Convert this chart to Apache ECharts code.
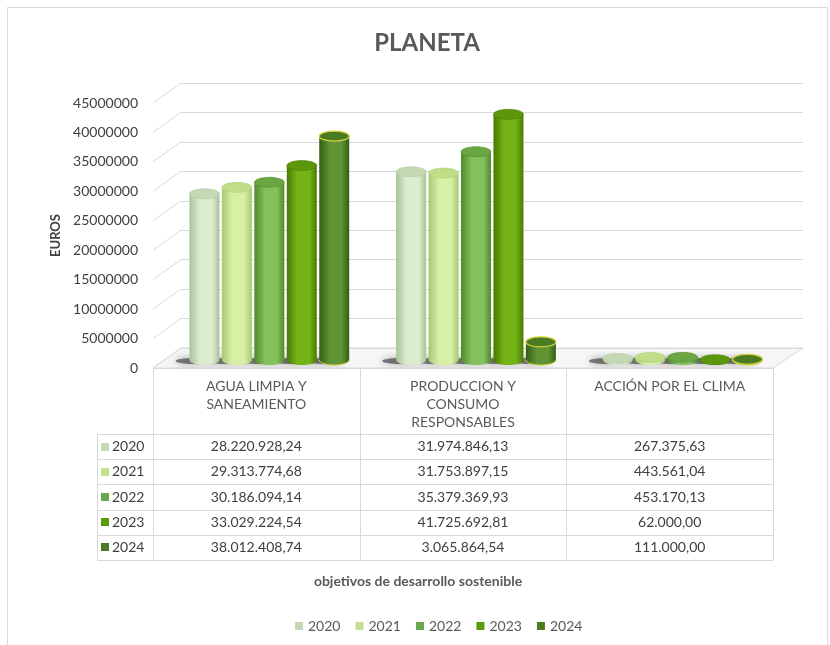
<!DOCTYPE html>
<html>
<head>
<meta charset="utf-8">
<title>PLANETA</title>
<script src="https://cdn.jsdelivr.net/npm/echarts@6/dist/echarts.min.js"></script>
<style>
  html, body { margin: 0; padding: 0; background: #fff; }
  #chart { width: 830px; height: 645px; }
</style>
</head>
<body>
<div id="chart"></div>
<script>
// datos
const categories = ['AGUA LIMPIA Y\nSANEAMIENTO', 'PRODUCCION Y\nCONSUMO\nRESPONSABLES', 'ACCIÓN POR EL CLIMA']
const years = ['2020', '2021', '2022', '2023', '2024']
const v2020 = [28220928.24, 31974846.13, 267375.63]
const v2021 = [29313774.68, 31753897.15, 443561.04]
const v2022 = [30186094.14, 35379369.93, 453170.13]
const v2023 = [33029224.54, 41725692.81, 62000.00]
const v2024 = [38012408.74, 3065864.54, 111000.00]
const yTicks = [0, 5000000, 10000000, 15000000, 20000000, 25000000, 30000000, 35000000, 40000000, 45000000]

const seriesValues = [v2020, v2021, v2022, v2023, v2024]

// colores: [borde, centro, tapa, leyenda]
const palette = [
  ['#a9c298', '#dcedcf', '#c4d9b3', '#c6d9b5'],
  ['#a6c872', '#d8efa6', '#c0de88', '#c4e08e'],
  ['#4d8a2c', '#86c05c', '#6aa641', '#6aa84f'],
  ['#467a04', '#74b416', '#5c960b', '#5b9a0f'],
  ['#355d16', '#5f9333', '#4a7a22', '#4e7a23']
]

const FONT = 'Lato, "Open Sans", sans-serif'
const DEPTH_X = 28
const DEPTH_Y = 20

// formato 28.220.928,24
function fmtEs(v) {
  const parts = v.toFixed(2).split('.')
  return parts[0].replace(/\B(?=(\d{3})+(?!\d))/g, '.') + ',' + parts[1]
}

function cylinder(idx) {
  const c = palette[idx]
  return function (params, api) {
    const cat = api.value(0)
    const base = api.coord([cat, 0])
    const top = api.coord([cat, api.value(1)])
    const band = api.size([1, 0])[0]
    const w = band * 0.145
    const step = band * 0.157
    const cx = base[0] + (idx - 2) * step
    const x0 = cx - w / 2
    const ry = 5
    const grad = new echarts.graphic.LinearGradient(0, 0, 1, 0, [
      { offset: 0, color: c[0] },
      { offset: 0.35, color: c[1] },
      { offset: 0.75, color: c[1] },
      { offset: 1, color: c[0] }
    ])
    const stroke = idx === 4 ? '#d6d43a' : null
    return {
      type: 'group',
      children: [
        {
          type: 'ellipse',
          shape: { cx: cx - 10, cy: base[1] + 1, rx: w / 2 + 4, ry: 3 },
          style: { fill: 'rgba(50,50,50,0.6)', shadowBlur: 7, shadowColor: 'rgba(0,0,0,0.6)' },
          z2: 0
        },
        {
          type: 'ellipse',
          shape: { cx: cx, cy: base[1], rx: w / 2, ry: ry },
          style: { fill: grad, stroke: stroke, lineWidth: 1 },
          z2: 1
        },
        {
          type: 'rect',
          shape: { x: x0, y: top[1], width: w, height: Math.max(base[1] - top[1], 0) },
          style: { fill: grad },
          z2: 2
        },
        {
          type: 'ellipse',
          shape: { cx: cx, cy: top[1], rx: w / 2, ry: ry },
          style: { fill: c[2], stroke: stroke || c[0], lineWidth: idx === 4 ? 1.2 : 0.5 },
          z2: 3
        }
      ]
    }
  }
}

// tabla
const T = { left: 97, colX: 153, colW: 620 / 3, headTop: 368, headH: 66, rowH: 25.2 }
const right = T.colX + 3 * T.colW
const bottom = T.headTop + T.headH + years.length * T.rowH
const lineStyle = { stroke: '#d9d9d9', lineWidth: 1 }
const tableEls = []

for (let r = 0; r <= years.length; r++) {
  const y = Math.round(T.headTop + T.headH + r * T.rowH) + 0.5
  tableEls.push({ type: 'line', shape: { x1: T.left, y1: y, x2: right, y2: y }, style: lineStyle, z: 5 })
}
tableEls.push({ type: 'line', shape: { x1: T.colX, y1: T.headTop + 0.5, x2: right, y2: T.headTop + 0.5 }, style: lineStyle, z: 5 })
tableEls.push({ type: 'line', shape: { x1: T.left + 0.5, y1: T.headTop + T.headH, x2: T.left + 0.5, y2: bottom }, style: lineStyle, z: 5 })
for (let c = 0; c <= categories.length; c++) {
  const x = Math.round(T.colX + c * T.colW) + 0.5
  tableEls.push({ type: 'line', shape: { x1: x, y1: T.headTop, x2: x, y2: bottom }, style: lineStyle, z: 5 })
}
categories.forEach((name, c) => {
  tableEls.push({
    type: 'text', z: 6,
    x: T.colX + (c + 0.5) * T.colW, y: T.headTop + 9,
    style: { text: name, font: '14px ' + FONT, fill: '#595959', align: 'center', verticalAlign: 'top', lineHeight: 18 }
  })
})
years.forEach((yr, r) => {
  const cy = T.headTop + T.headH + (r + 0.5) * T.rowH
  tableEls.push({ type: 'rect', z: 6, shape: { x: T.left + 4, y: Math.round(cy) - 4, width: 8, height: 8 }, style: { fill: palette[r][3] } })
  tableEls.push({
    type: 'text', z: 6, x: T.left + 15, y: cy,
    style: { text: yr, font: '14px ' + FONT, fill: '#404040', align: 'left', verticalAlign: 'middle' }
  })
  seriesValues[r].forEach((v, c) => {
    tableEls.push({
      type: 'text', z: 6, x: T.colX + (c + 0.5) * T.colW, y: cy,
      style: { text: fmtEs(v), font: '14px ' + FONT, fill: '#404040', align: 'center', verticalAlign: 'middle' }
    })
  })
})

// título del eje horizontal
tableEls.push({
  type: 'text', z: 6, x: 418, y: 581,
  style: { text: 'objetivos de desarrollo sostenible', font: 'bold 14px ' + FONT, fill: '#595959', align: 'center', verticalAlign: 'middle' }
})

const chart = echarts.init(document.getElementById('chart'), null, { renderer: 'canvas' })
chart.setOption({
  backgroundColor: '#fff',
  animation: false,
  textStyle: { fontFamily: FONT },
  title: {
    text: 'PLANETA', left: 422, top: 26, textAlign: 'center',
    textStyle: { fontSize: 24, fontWeight: 'bold', color: '#595959', fontFamily: FONT }
  },
  legend: {
    data: years, left: 290, top: 614, icon: 'rect', itemWidth: 8, itemHeight: 8, itemGap: 15,
    textStyle: { color: '#595959', fontSize: 14, fontFamily: FONT }
  },
  grid: [
    // frente: etiquetas y diagonales
    { left: 153, width: 620, top: 103, height: 265 },
    // pared del fondo
    { left: 153 + DEPTH_X, width: 622, top: 103 - DEPTH_Y, height: 265 },
    // columnas
    { left: 166, width: 620, top: 95, height: 265 }
  ],
  xAxis: [
    { gridIndex: 0, type: 'value', min: 0, max: 1, show: false },
    { gridIndex: 1, type: 'value', min: 0, max: 1, show: false },
    { gridIndex: 2, type: 'category', data: categories, show: false }
  ],
  yAxis: [
    {
      gridIndex: 0, type: 'value', min: 0, max: 45000000, interval: 5000000,
      name: 'EUROS', nameLocation: 'middle', nameGap: 90,
      nameTextStyle: { fontSize: 13, fontWeight: 'bold', color: '#404040', fontFamily: FONT },
      axisLine: { show: false }, axisTick: { show: false }, splitLine: { show: false },
      axisLabel: { margin: 15, fontSize: 14, color: '#404040', fontFamily: FONT, formatter: v => String(v) }
    },
    {
      gridIndex: 1, type: 'value', min: 0, max: 45000000, interval: 5000000,
      axisLine: { show: false }, axisTick: { show: false }, axisLabel: { show: false },
      splitLine: { lineStyle: { color: '#d9d9d9', width: 1 } }
    },
    { gridIndex: 2, type: 'value', min: 0, max: 45000000, interval: 5000000, show: false }
  ],
  graphic: [
    {
      type: 'rect', z: -1, silent: true,
      shape: { x: 7.5, y: 7.5, width: 820, height: 660 },
      style: { fill: 'none', stroke: '#d9d9d9', lineWidth: 1 }
    },
    {
      type: 'polygon', z: 0, silent: true,
      shape: { points: [[153, 368], [153 + DEPTH_X, 368 - DEPTH_Y], [right + DEPTH_X + 2, 368 - DEPTH_Y], [right, 368]] },
      style: { fill: '#f6f6f6', stroke: '#d9d9d9', lineWidth: 1 }
    }
  ].concat(tableEls),
  series: [
    {
      type: 'custom', xAxisIndex: 0, yAxisIndex: 0, silent: true, z: 1,
      data: yTicks.map(t => [0, t]),
      renderItem: function (params, api) {
        const pt = api.coord([0, api.value(1)])
        return {
          type: 'line',
          shape: { x1: pt[0], y1: pt[1], x2: pt[0] + DEPTH_X, y2: pt[1] - DEPTH_Y },
          style: { stroke: '#d9d9d9', lineWidth: 1 }
        }
      }
    }
  ].concat(years.map((yr, i) => ({
    name: yr,
    type: 'custom',
    xAxisIndex: 2, yAxisIndex: 2, z: 3,
    itemStyle: { color: palette[i][3] },
    data: seriesValues[i].map((v, c) => [c, v]),
    renderItem: cylinder(i)
  })))
})
</script>
</body>
</html>
